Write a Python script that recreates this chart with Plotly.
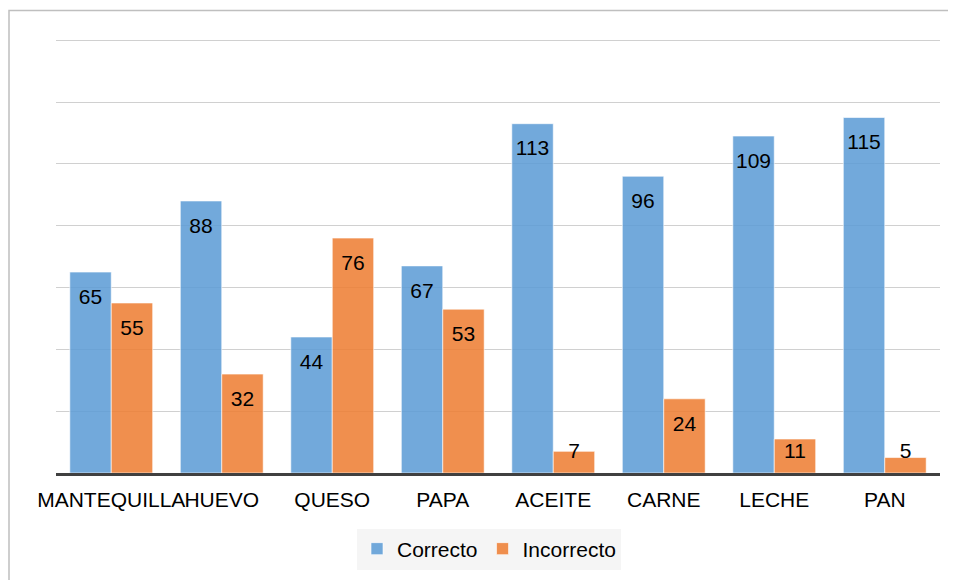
import plotly.graph_objects as go

categories = ["MANTEQUILLA", "HUEVO", "QUESO", "PAPA", "ACEITE", "CARNE", "LECHE", "PAN"]
correcto = [65, 88, 44, 67, 113, 96, 109, 115]
incorrecto = [55, 32, 76, 53, 7, 24, 11, 5]

FONT = "Liberation Sans, Arial, sans-serif"
FS = 21
LABEL_FLOOR = 15  # labels of very short bars stay above the axis (like Excel's inside-end)

# page is shown with an 8px body margin; figure sized to fit the window
W, H = 948, 572
L, R, T, B = 48, 16, 31, 106
PW, PH = W - L - R, H - T - B

series = [("Correcto", correcto, "rgba(91,155,213,0.86)"),
          ("Incorrecto", incorrecto, "rgba(237,125,49,0.86)")]

fig = go.Figure()
for i, (name, vals, col) in enumerate(series):
    fig.add_trace(go.Bar(
        name=name, x=categories, y=vals, offsetgroup=str(i),
        marker=dict(color=col, line=dict(color="rgba(255,255,255,0.6)", width=1)),
        hoverinfo="x+y",
    ))
for i, (name, vals, col) in enumerate(series):
    fig.add_trace(go.Scatter(
        name=name + " labels", x=categories, y=[max(v, LABEL_FLOOR) for v in vals],
        offsetgroup=str(i), mode="markers+text", showlegend=False,
        marker=dict(size=24, opacity=0),
        text=[str(v) for v in vals], textposition="bottom center",
        textfont=dict(family=FONT, size=FS, color="black"),
        hoverinfo="skip",
    ))

fig.update_layout(
    width=W, height=H,
    margin=dict(l=L, r=R, t=T, b=B),
    paper_bgcolor="white", plot_bgcolor="white",
    barmode="group", bargap=0.25, bargroupgap=0.0,
    scattermode="group", scattergap=0.25,
    font=dict(family=FONT, size=FS, color="black"),
    showlegend=True,
    legend=dict(
        orientation="h", x=(489 - 56) / PW, xanchor="center", y=-75 / PH, yanchor="middle",
        bgcolor="#f5f5f5", font=dict(family=FONT, size=FS, color="black"),
        traceorder="normal",
    ),
    xaxis=dict(
        showline=True, linecolor="#404040", linewidth=3,
        showgrid=False, ticks="", ticklabelstandoff=6, tickangle=0, automargin=False,
        tickfont=dict(family=FONT, size=FS, color="black"),
    ),
    yaxis=dict(
        range=[0, 140.4], dtick=20, showticklabels=False, automargin=False,
        showgrid=True, gridcolor="#d0d0d0", gridwidth=1,
        zeroline=False, showline=False, ticks="", fixedrange=True,
    ),
    shapes=[dict(
        type="rect", xref="paper", yref="paper",
        x0=-(L - 1) / PW, x1=1.2, y0=-0.5, y1=1 + (T - 2.5) / PH,
        line=dict(color="#bfbfbf", width=1.5), fillcolor="rgba(0,0,0,0)", layer="below",
    )],
)

fig.write_html("out.html")
